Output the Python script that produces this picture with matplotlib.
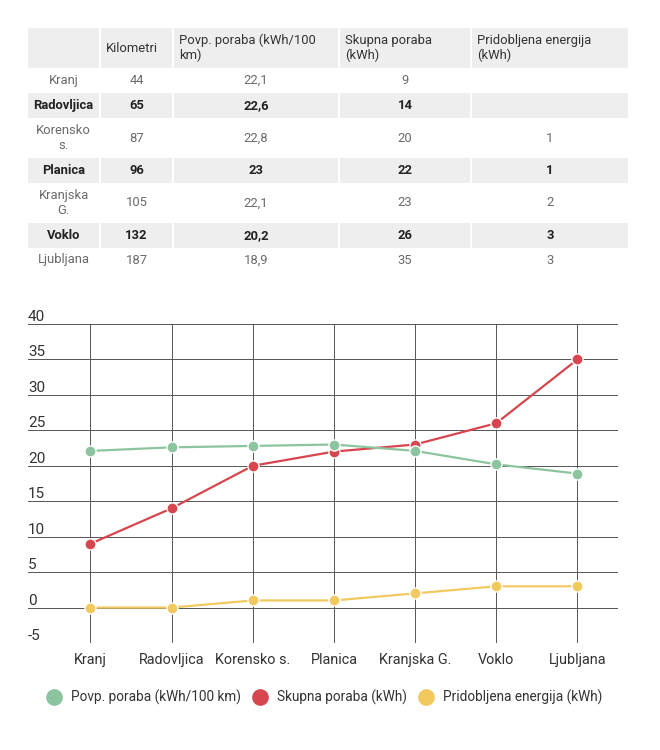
import matplotlib
matplotlib.use('Agg')
import matplotlib.pyplot as plt
from matplotlib.lines import Line2D
from matplotlib.patches import Rectangle

plt.rcParams['font.family'] = ['Roboto', 'DejaVu Sans']

# podatki
kraji = ['Kranj', 'Radovljica', 'Korensko s.', 'Planica', 'Kranjska G.', 'Voklo', 'Ljubljana']
kraji_tabela = ['Kranj', 'Radovljica', 'Korensko\ns.', 'Planica', 'Kranjska\nG.', 'Voklo', 'Ljubljana']
kilometri = [44, 65, 87, 96, 105, 132, 187]
povp_poraba = [22.1, 22.6, 22.8, 23, 22.1, 20.2, 18.9]
skupna_poraba = [9, 14, 20, 22, 23, 26, 35]
pridobljena = [None, None, 1, 1, 2, 3, 3]
glava = ['', 'Kilometri', 'Povp. poraba (kWh/100\nkm)', 'Skupna poraba\n(kWh)', 'Pridobljena energija\n(kWh)']
y_ticks = [-5, 0, 5, 10, 15, 20, 25, 30, 35, 40]

c_green = '#8dc4a0'
c_red = '#d7464f'
c_yellow = '#f1c95e'
c_gray = '#eeeeee'

fig = plt.figure(figsize=(6.6, 7.5), dpi=100)

# --- tabela (v pikslih) ---
ax_t = fig.add_axes([0, 0, 1, 1])
ax_t.set_xlim(0, 660)
ax_t.set_ylim(750, 0)
ax_t.axis('off')

col_x = [(28, 99), (101, 172), (174, 338), (340, 470), (472, 628)]
row_y = [(28, 68), (68, 93), (93, 118), (118, 158), (158, 183), (183, 223), (223, 248), (248, 272)]

def fmt(v):
    if v is None:
        return ''
    return str(v).replace('.', ',')

# glava
for (x0, x1), txt in zip(col_x, glava):
    ax_t.add_patch(Rectangle((x0, 28), x1 - x0, 40, color=c_gray, lw=0))
    ax_t.text(x0 + 5, 48, txt, ha='left', va='center', fontsize=9.4,
              color='#333333', linespacing=1.1)

for i in range(len(kraji)):
    y0, y1 = row_y[i + 1]
    bold = i % 2 == 1
    vals = [kraji_tabela[i], fmt(kilometri[i]), fmt(povp_poraba[i]),
            fmt(skupna_poraba[i]), fmt(pridobljena[i])]
    for j, ((x0, x1), txt) in enumerate(zip(col_x, vals)):
        if bold:
            ax_t.add_patch(Rectangle((x0, y0), x1 - x0, y1 - y0, color=c_gray, lw=0))
        ax_t.text((x0 + x1) / 2, (y0 + y1) / 2, txt, ha='center', va='center',
                  fontsize=9.4, color='#222222' if bold else '#6a6a6a',
                  fontweight='bold' if bold else 'normal', linespacing=1.15)

# --- graf ---
ax = fig.add_axes([28 / 660, 1 - 643 / 750, 590 / 660, 319 / 750])
x = list(range(len(kraji)))
prid_graf = [0 if v is None else v for v in pridobljena]

for serija, barva in [(prid_graf, c_yellow), (skupna_poraba, c_red), (povp_poraba, c_green)]:
    ax.plot(x, serija, color=barva, lw=1.6, marker='o', markersize=8,
            markeredgecolor='white', markeredgewidth=1.0, zorder=3)

ax.set_xlim(-0.77, 6.5)
ax.set_ylim(-5, 40)
ax.set_xticks(x, kraji)
ax.set_yticks(y_ticks, [str(t) for t in y_ticks])
ax.grid(True, color='#555555', lw=0.7)
ax.set_axisbelow(True)
for s in ax.spines.values():
    s.set_visible(False)
ax.tick_params(axis='x', length=0, pad=7, labelsize=10.4, labelcolor='#333333')
ax.tick_params(axis='y', length=0, pad=0, labelsize=11, labelcolor='#333333')
for lab in ax.get_yticklabels():
    lab.set_horizontalalignment('left')
    lab.set_verticalalignment('bottom')
ax.patch.set_alpha(0)

# legenda
handles = [Line2D([], [], ls='none', marker='o', markersize=11, color=c)
           for c in [c_green, c_red, c_yellow]]
labels = ['Povp. poraba (kWh/100 km)', 'Skupna poraba (kWh)', 'Pridobljena energija (kWh)']
fig.legend(handles, labels, loc='center', bbox_to_anchor=(0.487, 1 - 697 / 750), ncol=3,
           frameon=False, fontsize=9.8, handletextpad=0.3, columnspacing=0.35,
           labelcolor='#333333')

fig.savefig('out.png', dpi=100)
